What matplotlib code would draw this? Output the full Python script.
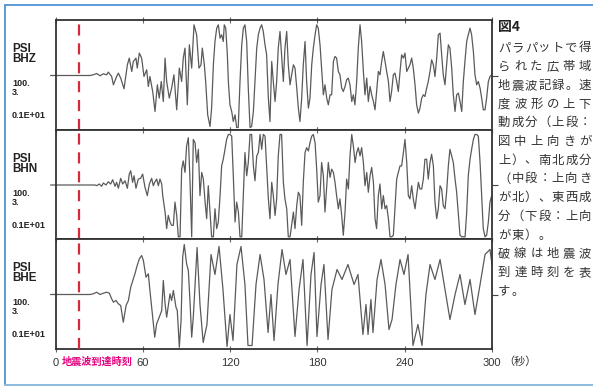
import matplotlib
matplotlib.use("Agg")
import matplotlib.pyplot as plt
from matplotlib.lines import Line2D

# ---------------- data ----------------
components = ["BHZ", "BHN", "BHE"]
station = "PSI"
scale_labels = ["100.", "3.", "0.1E+01"]
arrival_time = 16.0
xticks = [0, 60, 120, 180, 240, 300]
xtick_labels = ["0", "60", "120", "180", "240", "300"]

t_bhz = [-3.3, 23.7, 26.0, 28.3, 30.6, 32.9, 35.2, 36.3, 38.6, 39.8, 42.0, 43.2, 44.8, 47.1, 49.4, 50.7,
         52.4, 53.5, 55.3, 56.2, 57.6, 59.2, 60.8, 62.7, 63.8, 64.9, 66.8, 68.4, 70.0, 71.3, 72.7, 74.1,
         75.3, 76.4, 78.2, 79.8, 81.4, 83.3, 85.1, 86.7, 87.8, 89.0, 90.6, 92.0, 93.6, 95.2, 97.0, 98.6,
         100.0, 100.9, 102.3, 103.2, 104.6, 106.2, 107.3, 108.5, 109.6, 110.8, 111.9, 113.1, 114.2, 115.3,
         116.0, 117.0, 118.1, 118.8, 119.9, 121.1, 122.2, 123.4, 124.5, 125.6, 126.8, 128.0, 129.1, 130.2,
         131.4, 132.5, 133.7, 134.8, 136.0, 137.1, 138.3, 139.4, 140.6, 141.7, 142.8, 144.0, 145.1, 146.3,
         147.4, 148.6, 149.7, 150.9, 152.0, 153.1, 154.3, 155.4, 156.6, 157.7, 158.9, 160.0, 161.2, 162.3,
         163.5, 164.6, 165.8, 166.9, 168.0, 169.2, 170.3, 171.5, 172.6, 173.8, 174.9, 176.1, 177.2, 178.4,
         179.5, 180.6, 181.8, 182.9, 184.1, 185.2, 186.4, 187.5, 188.7, 189.8, 191.0, 192.1, 193.2, 194.4,
         195.5, 196.7, 197.8, 199.0, 200.1, 201.2, 202.4, 203.6, 204.7, 205.8, 207.0, 208.1, 209.3, 210.4,
         211.6, 212.7, 213.9, 215.0, 216.2, 217.3, 218.5, 219.6, 220.7, 221.9, 223.0, 224.2, 225.3, 226.5,
         227.6, 228.8, 229.9, 231.0, 232.2, 233.3, 234.5, 235.6, 236.8, 237.9, 239.1, 240.2, 241.4, 242.5,
         243.6, 244.8, 245.9, 247.1, 248.2, 249.4, 250.5, 251.7, 252.8, 253.9, 255.1, 256.2, 257.4, 258.5,
         259.7, 260.8, 262.0, 263.1, 264.3, 265.4, 266.5, 267.7, 268.8, 270.0, 271.1, 272.3, 273.4, 274.6,
         275.7, 276.9, 278.0, 279.2, 280.3, 281.4, 282.6, 283.7, 284.9, 286.0, 287.2, 288.3, 289.5, 290.6,
         291.8, 292.9, 294.0, 295.2, 296.3, 297.5, 298.6, 299.8]
v_bhz = [0, 0, 0.7, 2.0, -0.3, 1.7, 0.7, 3.4, -1.0, -9.3, -1.0, 2.4, -2.6, -13.3, 10.7, 17.4,
         4.0, 14.0, 17.4, 7.4, 22.4, 17.4, -0.9, 5.7, -11.0, -1.0, -16.0, -36.0, -9.3, -22.6, -6.0, -26.0,
         17.4, -6.0, -22.6, -12.6, 0.7, -34.3, 7.4, -6.0, 17.4, 27.4, -29.3, 30.7, 7.4, 50.7, 40.7, 7.4,
         10.7, 27.4, 10.7, -6.0, -39.3, -51.0, -32.6, 10.7, 34.0, 47.4, 50.7, 37.4, 40.7, 34.0,
         50.7, 47.4, 20.7, -6.0, -29.3, -36.0, -46.0, -39.3, -52.0, -52.0, -6.0, 30.7, 47.4, 50.7,
         34.0, -12.6, -52.0, -51.0, -36.0, -6.0, 27.4, 40.7, 47.4, 50.7, 44.0, 30.7, 20.7, -22.6,
         -46.0, 14.0, -6.0, -26.0, -6.0, 27.4, 44.0, 20.7, -6.0, 27.4, 44.0, 10.7, -9.3, 0.7,
         10.7, 7.4, -12.6, -32.6, -46.0, -22.6, 10.7, 34.0, -6.0, -32.6, -22.6, 10.7, 27.4, 40.7,
         50.7, 47.4, 30.7, 7.4, -19.3, -9.3, -22.6, -29.3, -19.3, -19.3, 14.0, 19.0, 17.4, 4.0,
         0.7, -12.6, -16.0, -11.0, -4.3, -2.6, -9.3, -26.0, -19.3, -29.3, -6.0, 27.4, 50.7, 34.0,
         4.0, -19.3, -2.6, -26.0, -11.0, -19.3, -26.0, -34.3, -16.0, 4.0, 0.7, 14.0, 24.0, 14.0,
         4.0, -6.0, -26.0, -16.0, 0.7, 2.4, -6.0, -16.0, 4.0, 20.7, 17.4, 22.4, 4.0, 7.4,
         10.7, 17.4, 7.4, -9.3, -29.3, -37.6, -32.6, -22.6, -19.3, -21.0, -12.6, -6.0, 4.0, 15.7,
         10.7, -1.0, 17.4, 40.7, 42.4, 20.7, 0.7, -9.3, 10.7, 30.7, 27.4, 7.4, -19.3, -36.0,
         -19.3, -17.6, -26.0, -36.0, -6.0, 14.0, 34.0, 40.7, 47.4, 40.7, 24.0, 0.7, -9.3, -6.0,
         -12.6, -22.6, -34.3, -34.3, -22.6, -6.0, -1.0, 0.7]

t_bhn = [-3.3, 27.1, 28.3, 30.1, 31.7, 32.9, 34.7, 36.3, 37.9, 39.3, 40.9, 42.0, 43.2, 44.8, 46.2, 47.8,
         49.4, 50.7, 51.7, 53.0, 54.0, 55.3, 56.9, 58.5, 59.9, 61.5, 63.1, 64.5, 66.1, 67.2, 68.4, 69.5,
         70.7, 71.8, 73.0, 73.7, 75.3, 76.4, 77.5, 78.7, 79.8, 81.0, 82.1, 83.3, 84.4, 85.6, 86.7, 87.8,
         89.0, 90.1, 91.3, 92.4, 93.6, 94.7, 95.9, 97.0, 98.2, 99.3, 100.5, 101.6, 102.8, 103.9, 105.0,
         106.2, 107.3, 108.5, 109.6, 110.8, 111.9, 113.1, 114.2, 115.3, 116.5, 117.6, 118.8, 119.9, 121.1,
         122.2, 123.4, 124.5, 125.7, 126.8, 128.0, 129.1, 130.2, 131.4, 132.5, 133.7, 134.8, 136.0, 137.1,
         138.3, 139.4, 140.6, 141.7, 142.8, 144.0, 145.1, 146.3, 147.4, 148.6, 149.7, 150.9, 152.0, 153.1,
         154.3, 155.4, 156.6, 157.7, 158.9, 160.0, 161.2, 162.3, 163.5, 164.6, 165.8, 166.9, 168.0, 169.2,
         170.3, 171.5, 172.6, 173.8, 174.9, 176.1, 177.2, 178.4, 179.5, 180.6, 181.8, 182.9, 184.1, 185.2,
         186.4, 187.5, 188.7, 189.8, 191.0, 192.1, 193.2, 194.4, 195.5, 196.7, 197.8, 199.0, 200.1, 201.3,
         202.4, 203.6, 204.7, 205.9, 207.0, 208.1, 209.3, 210.4, 211.6, 212.7, 213.9, 215.0, 216.2, 217.3,
         218.5, 219.6, 220.7, 221.9, 223.0, 224.2, 225.3, 226.5, 227.6, 228.8, 229.9, 231.1, 232.2, 233.3,
         234.5, 235.6, 236.8, 237.9, 239.1, 240.2, 241.4, 242.5, 243.6, 244.8, 245.9, 247.1, 248.2, 249.4,
         250.5, 251.7, 252.8, 253.9, 255.1, 256.2, 257.4, 258.5, 259.7, 260.8, 262.0, 263.1, 264.3, 265.4,
         266.5, 267.7, 268.8, 270.0, 271.1, 272.3, 273.4, 274.6, 275.7, 276.9, 278.0, 279.2, 280.3, 281.5,
         282.6, 283.7, 284.9, 286.0, 287.2, 288.3, 289.5, 290.6, 291.8, 292.9, 294.0, 295.2, 296.3, 297.5,
         298.6, 299.8]
v_bhn = [0, 0, -0.7, 1.0, -1.3, 2.0, 0, 3.3, 1.0, 5.3, -1.3, 2.7, -3.3, 6.7, 1.0, 4.3,
         -3.3, 11.0, 14.3, 2.7, 9.3, -3.3, 6.0, 6.7, 11.0, -2.3, -10.7, 1.0, 6.7, -0.7, 3.3, 6.0,
         -0.7, 6.0, 1.0, -10.7, -27.3, -44.0, -30.7, -37.3, -40.7, -40.7, -17.3, -30.7, -52.3, -52.3, 16.0, 24.3,
         12.7, 39.3, 47.7, 6.0, -52.3, 46.0, 42.7, 22.7, 36.0, -10.7, 12.7, 6.0, -17.3, -34.0, -0.7,
         -27.3, -52.3, -52.3, -24.0, -44.0, -37.3, -10.7, 19.3, 26.0, 36.0, 46.0, 51.0, 51.0, 49.3,
         9.3, -37.3, -17.3, -27.3, -52.3, -52.3, -10.7, 32.7, 9.3, 22.7, 51.0, 51.0, 19.3, 4.3,
         29.3, 32.7, 51.0, 36.0, 51.0, 49.3, 19.3, -14.0, -34.0, 2.7, -10.7, -30.7, -14.0, 29.3,
         51.0, 51.0, 2.7, -14.0, -24.0, -52.3, -52.3, -40.7, -27.3, -44.0, -20.7, -7.3, -10.7, -40.7,
         2.7, 32.7, 37.7, 34.3, 42.7, 49.3, 51.0, 42.7, 16.0, -17.3, -10.7, 22.7, 9.3, -27.3,
         -0.7, 22.7, 7.7, 16.0, 12.7, 2.7, -10.7, -24.0, -14.0, -30.7, -50.7, -27.3, 6.0, -4.0,
         29.3, 51.0, 39.3, 22.7, 32.7, 37.7, 29.3, 37.7, 22.7, -0.7, 12.7, -7.3, 9.3, 17.7,
         2.7, -34.0, -44.0, -10.7, 1.0, -24.0, -10.7, -24.0, -20.7, -34.0, -52.3, -52.3, -50.7, -24.0,
         6.0, 12.7, 19.3, 19.3, 32.7, 46.0, 22.7, -10.7, -14.0, -0.7, -14.0, -24.0, -10.7, 2.7,
         -4.0, -4.0, 6.0, 26.0, 26.0, 6.0, 22.7, 31.0, 19.3, -17.3, -34.0, -24.0, -0.7, -4.0,
         -20.7, -24.0, -7.3, 19.3, 36.0, 29.3, 22.7, 6.0, -7.3, -30.7, -50.7, -52.3, -52.3, -52.3,
         -27.3, 9.3, 26.0, 36.0, 46.0, 51.0, 51.0, 49.3, 22.7, -10.7, -44.0, -52.3, -50.7, -37.3,
         -17.3, -10.7]

t_bhe = [-3.3, 23.7, 26.0, 28.3, 30.6, 32.9, 35.2, 37.0, 38.6, 39.8, 41.6, 43.2, 44.8, 46.6, 48.5, 50.1,
         51.7, 53.5, 54.6, 55.8, 57.6, 59.2, 60.4, 62.2, 63.8, 64.9, 66.8, 68.2, 69.5, 71.3, 73.0, 74.1,
         75.3, 76.4, 78.7, 79.8, 81.0, 82.8, 83.7, 85.1, 86.3, 87.4, 88.5, 90.1, 91.3, 92.4, 93.6, 94.7,
         97.3, 99.3, 101.5, 104.1, 106.9, 109.6, 112.4, 115.1, 117.9, 119.9, 122.0, 124.7, 127.5, 130.2,
         132.3, 135.1, 137.8, 140.6, 143.3, 146.1, 148.1, 150.2, 152.9, 155.7, 158.4, 161.2, 164.6, 167.4,
         170.1, 172.9, 175.6, 177.7, 179.7, 182.5, 184.5, 187.3, 190.0, 193.5, 196.9, 201.0, 205.2, 207.9,
         211.3, 213.4, 214.8, 216.8, 218.2, 221.0, 223.7, 226.5, 229.2, 231.3, 234.0, 236.8, 239.5, 242.3,
         245.7, 249.1, 251.9, 254.6, 257.4, 260.8, 264.3, 267.7, 271.1, 274.6, 278.0, 281.4, 284.9, 288.3,
         291.8, 295.2, 298.6, 300.0]
v_bhe = [0, 0, 0.7, 2.3, 0, 1.3, 2.3, 1.3, -4.3, -7.7, -6.0, -9.3, -11.0, -27.7, -11.0, -6.0,
         7.3, 15.7, 20.7, 27.3, 35.7, 39.0, 34.0, 17.3, 20.7, 4.0, -22.7, -42.7, -29.3, -22.7, -16.0, 14.0,
         -9.3, -22.7, 0.7, -6.0, 4.0, -12.7, -16.0, -52.7, -26.0, 37.3, 50.0, 30.7, 24.0, -6.0, -42.7, -22.7,
         47.0, -10.0, -48.0, -30.0, 40.0, 20.0, 48.0, 5.0, -52.0, -20.0, -46.0, 30.0, 48.0, 10.0,
         -51.0, -51.0, 10.0, 40.0, 15.0, -38.0, 0.0, -46.0, 10.0, 45.0, 20.0, 35.0, -42.0, 5.0,
         35.0, -51.0, 20.0, 42.0, -42.0, 10.0, 30.0, -45.0, 5.0, 25.0, 15.0, 30.0, 10.0, 20.0,
         -40.0, -10.0, -40.0, -5.0, -38.0, 15.0, 35.0, 10.0, -35.0, -25.0, 10.0, 35.0, 20.0, 40.0,
         -51.0, -30.0, -51.0, 0.0, 30.0, 15.0, 35.0, 5.0, -25.0, 0.0, 20.0, -10.0, 15.0, -20.0,
         10.0, 40.0, 45.0, 30.0]

series_t = [t_bhz, t_bhn, t_bhe]
series_v = [v_bhz, v_bhn, v_bhe]

caption_title = "図4"
caption_lines = ["パラパットで得", "られた広帯域", "地震波記録。速", "度波形の上下",
                 "動成分（上段：", "図中上向きが", "上）、南北成分", "（中段：上向き",
                 "が北）、東西成", "分（下段：上向", "が東）。", "破線は地震波",
                 "到達時刻を表", "す。"]
caption_justify = [True, True, True, True, True, True, True, True, True, True, False, True, True, False]

# ---------------- layout ----------------
W, H = 593, 386
fig = plt.figure(figsize=(W / 100, H / 100), dpi=100)
fig.patch.set_facecolor("white")

def fx(px):
    return px / W

def fy(py):
    return 1 - py / H

x0, x1 = 55.5, 492.0
panel_tops = [20.0, 130.0, 239.0]
panel_bots = [130.0, 239.0, 349.0]
latin = ["Liberation Sans", "DejaVu Sans"]
cjk = ["Noto Sans CJK JP", "DejaVu Sans"]

# blue frame
frame_col = "#5b9bd5"
fig.add_artist(Line2D([fx(5), fx(593)], [fy(5), fy(5)], color=frame_col, lw=1.4))
fig.add_artist(Line2D([fx(5), fx(5)], [fy(5), fy(384.5)], color=frame_col, lw=1.4))
fig.add_artist(Line2D([fx(5), fx(593)], [fy(384.5), fy(384.5)], color="#8dbbdc", lw=1.4))

axes = []
for i in range(3):
    top, bot = panel_tops[i], panel_bots[i]
    ax = fig.add_axes([fx(x0), fy(bot), fx(x1) - fx(x0), (bot - top) / H])
    axes.append(ax)
    ax.plot(series_t[i], series_v[i], color="#5a5a5a", lw=0.9, clip_on=False, zorder=2)
    ax.axvline(arrival_time, color="#d42a3a", lw=1.6, dashes=(5, 3.5), zorder=3)
    ax.set_xlim(0, 300)
    ax.set_ylim(-54.5, 55.5)
    for s in ax.spines.values():
        s.set_color("#333333")
        s.set_linewidth(1.3)
    ax.set_xticks(xticks)
    ax.tick_params(axis="x", which="both", direction="inout", length=5, width=0.8,
                   color="#666666", top=True, bottom=True)
    if i == 2:
        ax.set_xticklabels(xtick_labels, fontsize=8, color="#333333", family=latin)
        ax.tick_params(axis="x", pad=4)
    else:
        ax.set_xticklabels([])
    ax.yaxis.tick_right()
    ax.set_yticks([0])
    ax.set_yticklabels([])
    ax.tick_params(axis="y", direction="out", length=4, width=0.8, color="#444444")

    # left-side labels (station + component stacked as one block)
    fig.text(fx(12), fy(top + 33.8), station + "\n" + components[i], fontsize=8.4,
             fontweight="bold", family=latin, color="#222222", va="center", ha="left",
             linespacing=0.82)
    fig.text(fx(12), fy(top + 68), scale_labels[0] + "\n" + scale_labels[1], fontsize=6.5,
             fontweight="bold", family=latin, color="#222222", va="center", ha="left",
             linespacing=1.05)
    fig.text(fx(12), fy(top + 95.5), scale_labels[2], fontsize=6.5, fontweight="bold", family=latin,
             color="#222222", va="center", ha="left")

# bottom annotations
fig.text(fx(97), fy(362), "地震波到達時刻", fontsize=7.3, color="#e4007f", family=cjk,
         ha="center", va="center", fontweight="bold")
fig.text(fx(503), fy(361.5), "（秒）", fontsize=8, color="#333333", family=cjk,
         ha="left", va="center")

# caption on the right
fig.text(fx(498), fy(27), caption_title, fontsize=10, fontweight="bold", family=cjk,
         color="#222222", ha="left", va="center")
L, R = 498.0, 591.0
cw = 12.2
for k, line in enumerate(caption_lines):
    y = 48 + 18.7 * k
    n = len(line)
    if caption_justify[k] and n > 1:
        pitch = (R - L - cw) / (n - 1)
    else:
        pitch = 13.5
    for j, ch in enumerate(line):
        fig.text(fx(L + j * pitch + cw / 2), fy(y), ch, fontsize=8.9, family=cjk,
                 color="#333333", ha="center", va="center")

fig.savefig("out.png", dpi=100, facecolor="white")
